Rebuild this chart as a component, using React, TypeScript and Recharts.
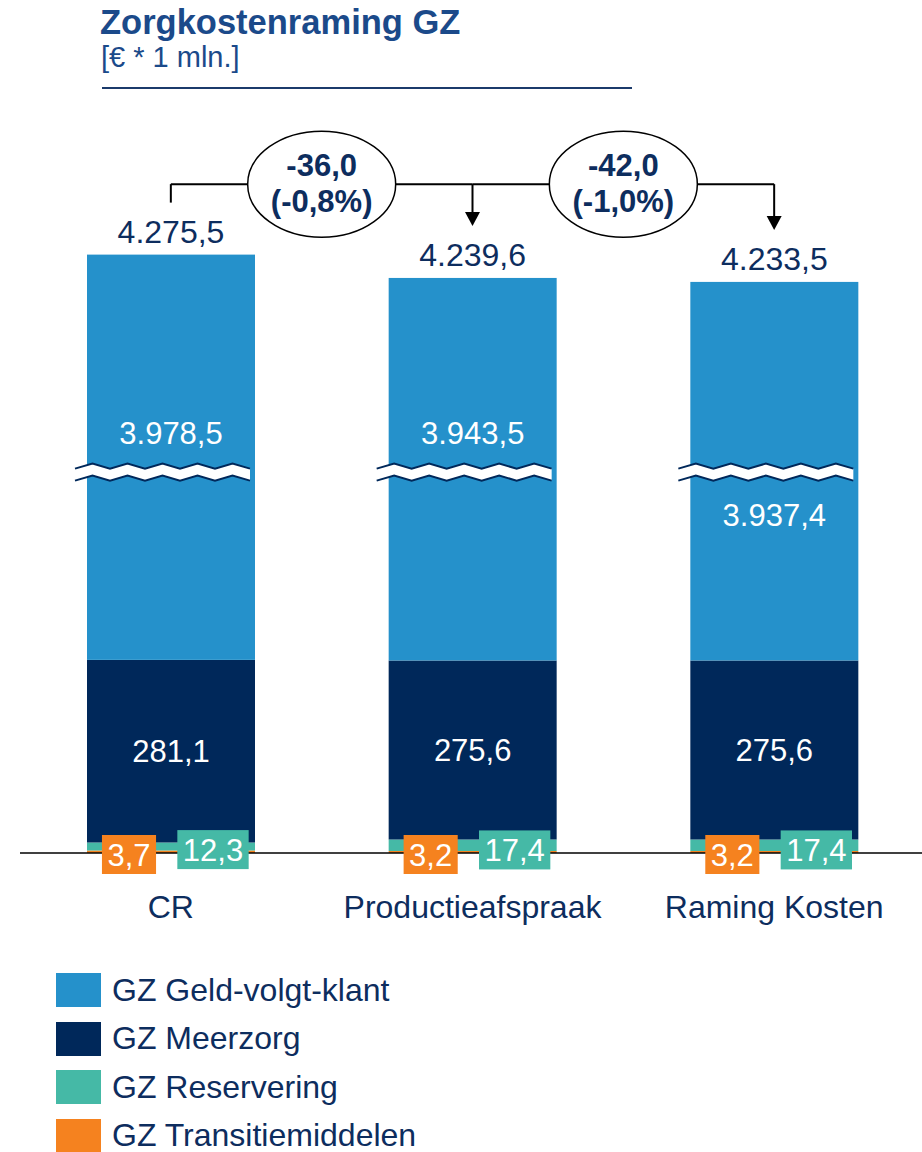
import { BarChart, Bar, XAxis, YAxis, LabelList, ReferenceLine, Legend } from "recharts";

const categories = ["CR", "Productieafspraak", "Raming Kosten"];
const geldVolgtKlant = [3978.5, 3943.5, 3937.4];
const meerzorg = [281.1, 275.6, 275.6];
const reservering = [12.3, 17.4, 17.4];
const transitiemiddelen = [3.7, 3.2, 3.2];
const totals = [4275.5, 4239.6, 4233.5];
const deltaValues = ["-36,0", "-42,0"];
const deltaPercents = ["(-0,8%)", "(-1,0%)"];

const seriesNames = [
  "GZ Geld-volgt-klant",
  "GZ Meerzorg",
  "GZ Reservering",
  "GZ Transitiemiddelen",
];

// broken axis: this much is cut out of the Geld-volgt-klant segment
const BREAK_CUT = 3355;
const BREAK_AT = 586;
const BRACKET_LEVEL = 1029;
const STEM_GAP = 80;

const LIGHT_BLUE = "#2591CB";
const NAVY = "#00285A";
const TEAL = "#45B9A6";
const ORANGE = "#F5821F";
const TEXT = "#0D2D5E";
const FONT = "'Liberation Sans', Arial, sans-serif";

const data = categories.map((name, i) => ({
  name,
  transitie: transitiemiddelen[i],
  reservering: reservering[i],
  meerzorg: meerzorg[i],
  geld: geldVolgtKlant[i] - BREAK_CUT,
  bottom: transitiemiddelen[i] + reservering[i] + meerzorg[i],
}));

const displayTotal = (i: number) => data[i].bottom + data[i].geld;

function fmt(v: number) {
  const [int, dec] = v.toFixed(1).split(".");
  return int.replace(/\B(?=(\d{3})+(?!\d))/g, ".") + "," + dec;
}

function textWidth(s: string, size: number) {
  let w = 0;
  for (const c of s) w += c === "," || c === "." ? 0.278 : 0.556;
  return w * size;
}

function vbox(props: any) {
  const vb = props.viewBox || props;
  return { x: +vb.x, y: +vb.y, width: +vb.width, height: +vb.height };
}

function BoxLabel(props: any, color: string, side: number, dy: number) {
  const { x, y, width, height } = vbox(props);
  const txt = fmt(Number(props.value));
  const w = textWidth(txt, 31) + 11;
  const cx = x + width * side;
  const cy = y + height + dy;
  return (
    <g>
      <rect x={cx - w / 2} y={cy - 19.5} width={w} height={39} fill={color} />
      <text x={cx} y={cy + 11} textAnchor="middle" fill="#fff" fontSize={31} fontFamily={FONT}>
        {txt}
      </text>
    </g>
  );
}

function GeldShape(props: any) {
  const { x, y, width, height, payload } = props;
  const pxPerUnit = height / payload.geld;
  const by = y + height - (BREAK_AT - payload.bottom) * pxPerUnit;
  const x0 = x - 12;
  const x1 = x + width + 12;
  const period = 35;
  const top: string[] = [];
  const bot: string[] = [];
  let k = 0;
  for (let px = x0; px <= x1 + 0.1; px += period / 2, k++) {
    const off = k % 2 === 0 ? 2.5 : -2.5;
    top.push(`${px},${by - 6 + off}`);
    bot.push(`${px},${by + 6 + off}`);
  }
  const poly = [...top, ...bot.slice().reverse()].join(" ");
  return (
    <g>
      <rect x={x} y={y} width={width} height={height} fill={LIGHT_BLUE} />
      <polygon points={poly} fill="#fff" />
      <polyline points={top.join(" ")} fill="none" stroke={NAVY} strokeWidth={2} />
      <polyline points={bot.join(" ")} fill="none" stroke={NAVY} strokeWidth={2} />
    </g>
  );
}

function GeldLabel(props: any) {
  const { x, y, width, height } = vbox(props);
  const i = props.index;
  const d = data[i];
  const pxPerUnit = height / d.geld;
  const by = y + height - (BREAK_AT - d.bottom) * pxPerUnit;
  const below = i === categories.length - 1;
  const cy = below ? by + 43 : by - 39;
  return (
    <g>
      <text x={x + width / 2} y={cy + 11} textAnchor="middle" fill="#fff" fontSize={31} fontFamily={FONT}>
        {fmt(geldVolgtKlant[i])}
      </text>
      <text x={x + width / 2} y={y - 12} textAnchor="middle" fill={TEXT} fontSize={32} fontFamily={FONT}>
        {fmt(totals[i])}
      </text>
    </g>
  );
}

function MeerzorgLabel(props: any) {
  const { x, y, width, height } = vbox(props);
  return (
    <text x={x + width / 2} y={y + height / 2 + 11} textAnchor="middle" fill="#fff" fontSize={31} fontFamily={FONT}>
      {fmt(Number(props.value))}
    </text>
  );
}

function CategoryTick(props: any) {
  const { x, y, payload } = props;
  return (
    <text x={x} y={y + 63} textAnchor="middle" fill={TEXT} fontSize={32} fontFamily={FONT}>
      {payload.value}
    </text>
  );
}

function bracketShape(i: number) {
  return (props: any) => {
    const { x1, y1, x2 } = props;
    const cx = (x1 + x2) / 2;
    return (
      <g>
        <line x1={x1} y1={y1} x2={x2} y2={y1} stroke="#000" strokeWidth={2} />
        <ellipse cx={cx} cy={y1} rx={74} ry={53} fill="#fff" stroke="#000" strokeWidth={1.5} />
        <text x={cx} y={y1 - 8} textAnchor="middle" fill={TEXT} fontSize={31} fontWeight="bold" fontFamily={FONT}>
          {deltaValues[i]}
        </text>
        <text x={cx} y={y1 + 28} textAnchor="middle" fill={TEXT} fontSize={31} fontWeight="bold" fontFamily={FONT}>
          {deltaPercents[i]}
        </text>
      </g>
    );
  };
}

function arrowShape(props: any) {
  const { x1, y1, x2, y2 } = props;
  const top = Math.min(y1, y2);
  const tip = Math.max(y1, y2);
  return (
    <g>
      <line x1={x1} y1={top} x2={x2} y2={tip - 12} stroke="#000" strokeWidth={2} />
      <polygon points={`${x1 - 7.5},${tip - 14} ${x1 + 7.5},${tip - 14} ${x1},${tip}`} fill="#000" />
    </g>
  );
}

function stemShape(props: any) {
  const { x1, y1, x2, y2 } = props;
  return <line x1={x1} y1={y1} x2={x2} y2={y2} stroke="#000" strokeWidth={2} />;
}

function LegendContent() {
  const colors = [LIGHT_BLUE, NAVY, TEAL, ORANGE];
  return (
    <div style={{ fontFamily: FONT }}>
      {seriesNames.map((n, i) => (
        <div key={n} style={{ display: "flex", alignItems: "center", height: 48.5 }}>
          <div style={{ width: 45, height: 34, background: colors[i], marginRight: 11, flexShrink: 0 }} />
          <span style={{ fontSize: 32, color: TEXT, whiteSpace: "nowrap" }}>{n}</span>
        </div>
      ))}
    </div>
  );
}

export default function App() {
  return (
    <div style={{ position: "absolute", left: 0, top: 0, width: 922, height: 1152, overflow: "hidden", background: "#fff" }}>
      <svg width={922} height={100} style={{ position: "absolute", left: 0, top: 0 }}>
        <text x={100} y={34} fill="#1B4A8A" fontSize={34.5} fontWeight="bold" fontFamily={FONT}>
          Zorgkostenraming GZ
        </text>
        <text x={101} y={67} fill="#1B4A8A" fontSize={29} fontFamily={FONT}>
          [€ * 1 mln.]
        </text>
        <line x1={102} y1={88} x2={632} y2={88} stroke="#1B3A6B" strokeWidth={2} />
      </svg>
      <div style={{ position: "absolute", left: 0, top: 0 }}>
        <BarChart
          width={925}
          height={1152}
          data={data}
          margin={{ top: 8, right: 0, left: 20, bottom: 239 }}
          barSize={168}
        >
          <XAxis
            dataKey="name"
            height={60}
            axisLine={{ stroke: "#000", strokeWidth: 1.5 }}
            tickLine={false}
            tickSize={0}
            tick={<CategoryTick />}
            interval={0}
          />
          <YAxis hide domain={[0, 1300]} />
          <Bar dataKey="transitie" stackId="a" fill={ORANGE} isAnimationActive={false}>
            <LabelList dataKey="transitie" content={(p: any) => BoxLabel(p, ORANGE, 0.25, 1.5)} />
          </Bar>
          <Bar dataKey="reservering" stackId="a" fill={TEAL} isAnimationActive={false}>
            <LabelList dataKey="reservering" content={(p: any) => BoxLabel(p, TEAL, 0.75, -1)} />
          </Bar>
          <Bar dataKey="meerzorg" stackId="a" fill={NAVY} isAnimationActive={false}>
            <LabelList dataKey="meerzorg" content={MeerzorgLabel} />
          </Bar>
          <Bar dataKey="geld" stackId="a" fill={LIGHT_BLUE} shape={GeldShape} isAnimationActive={false}>
            <LabelList dataKey="geld" content={GeldLabel} />
          </Bar>
          <ReferenceLine
            segment={[{ x: categories[0], y: displayTotal(0) + STEM_GAP }, { x: categories[0], y: BRACKET_LEVEL }]}
            shape={stemShape}
            ifOverflow="visible"
          />
          <ReferenceLine
            segment={[{ x: categories[1], y: BRACKET_LEVEL }, { x: categories[1], y: displayTotal(1) + STEM_GAP }]}
            shape={arrowShape}
            ifOverflow="visible"
          />
          <ReferenceLine
            segment={[{ x: categories[2], y: BRACKET_LEVEL }, { x: categories[2], y: displayTotal(2) + STEM_GAP }]}
            shape={arrowShape}
            ifOverflow="visible"
          />
          <ReferenceLine
            segment={[{ x: categories[0], y: BRACKET_LEVEL }, { x: categories[1], y: BRACKET_LEVEL }]}
            shape={bracketShape(0)}
            ifOverflow="visible"
          />
          <ReferenceLine
            segment={[{ x: categories[1], y: BRACKET_LEVEL }, { x: categories[2], y: BRACKET_LEVEL }]}
            shape={bracketShape(1)}
            ifOverflow="visible"
          />
          <Legend
            layout="vertical"
            align="center"
            verticalAlign="middle"
            wrapperStyle={{ top: 966, left: 56, width: 420 }}
            content={<LegendContent />}
          />
        </BarChart>
      </div>
    </div>
  );
}
